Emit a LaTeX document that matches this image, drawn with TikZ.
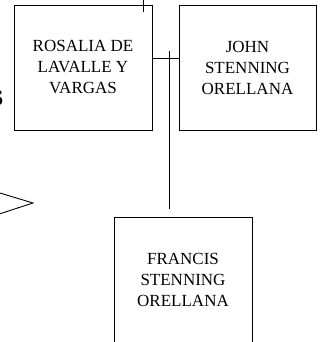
\documentclass[tikz,border=0pt]{standalone}
\usepackage{fontspec}
\setmainfont{Liberation Serif}
\begin{document}
\begin{tikzpicture}[x=1pt,y=1pt,
  person/.style={draw,line width=0.9pt,rectangle,inner sep=0pt,
    minimum width=138pt,minimum height=125pt,align=center,
    font=\fontsize{17}{21}\selectfont},
  link/.style={line width=0.9pt}]
\useasboundingbox (0,0) rectangle (327,342);
\clip (0,0) rectangle (327,342);
\node[person] (rosalia) at (83,274.5) {ROSALIA DE\\LAVALLE Y\\VARGAS};
\node[person,minimum width=137pt] (john) at (247.5,274.5) {JOHN\\STENNING\\ORELLANA};
\node[person,minimum height=126pt] (francis) at (183,62) {FRANCIS\\STENNING\\ORELLANA};
\coordinate (topA) at (143,350);
\coordinate (topB) at (143,330);
\coordinate (hy) at (0,284);
\coordinate (vA) at (169,291);
\coordinate (vB) at (169,133);
\coordinate (t1) at (-10,152);
\coordinate (t2) at (33,139);
\coordinate (t3) at (-10,125);
\node[anchor=east,inner sep=0pt,font=\fontsize{22}{22}\bfseries\selectfont] (s) at (3.5,244) {S};
\draw[link] (topA) -- (topB);
\draw[link] (rosalia.east |- hy) -- (john.west |- hy);
\draw[link] (vA) -- (vB);
\draw[link] (t1) -- (t2) -- (t3);
\end{tikzpicture}
\end{document}
